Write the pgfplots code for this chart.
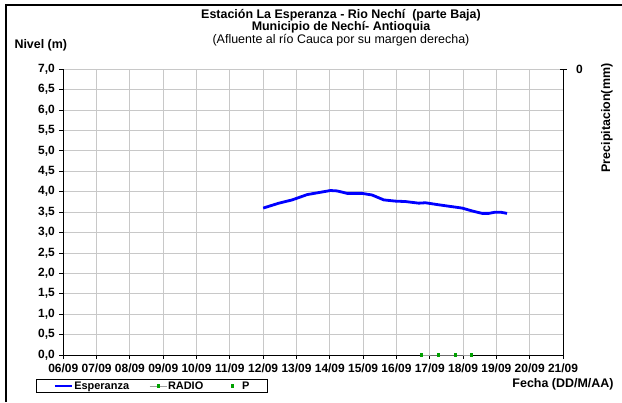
\documentclass[border=0pt]{standalone}
\usepackage{pgfplots}
\pgfplotsset{compat=1.18}
\usepackage{fontspec}
\setmainfont{Liberation Sans}
\definecolor{esp}{RGB}{0,0,255}
\definecolor{gridgray}{RGB}{200,200,200}
\definecolor{radgreen}{RGB}{0,160,0}
\definecolor{radgray}{RGB}{160,160,160}
\begin{document}
\begin{tikzpicture}[x=1bp,y=1bp]
\useasboundingbox (0,0) rectangle (622,402);
\draw[line width=2bp] (6,0) -- (6,397) -- (622,397);
\node[font=\bfseries\fontsize{12.5}{14}\selectfont] at (341,387) {Estación La Esperanza - Rio Nechí\ \ (parte Baja)};
\node[font=\bfseries\fontsize{12.5}{14}\selectfont] at (341,375) {Municipio de Nechí- Antioquia};
\node[font=\fontsize{12.5}{14}\selectfont] at (341,362) {(Afluente al río Cauca por su margen derecha)};
\node[font=\bfseries\fontsize{12.5}{14}\selectfont, anchor=west] at (11,357) {Nivel (m)};
\node[font=\bfseries\fontsize{12.5}{14}\selectfont, anchor=east] at (617,18) {Fecha (DD/M/AA)};
\node[font=\bfseries\fontsize{12.5}{14}\selectfont, rotate=90] at (607,284) {Precipitacion(mm)};
\begin{axis}[
  at={(63.3bp,47bp)}, anchor=south west, scale only axis,
  width=499.7bp, height=285.7bp,
  xmin=6, xmax=21, ymin=0, ymax=7,
  xtick={6,7,8,9,10,11,12,13,14,15,16,17,18,19,20,21},
  xticklabels={06/09,07/09,08/09,09/09,10/09,11/09,12/09,13/09,14/09,15/09,16/09,17/09,18/09,19/09,20/09,21/09},
  ytick={0,0.5,1,1.5,2,2.5,3,3.5,4,4.5,5,5.5,6,6.5,7},
  grid=major, major grid style={color=gridgray, line width=0.9bp},
  axis x line*=bottom, axis y line*=left,
  axis line style={black, line width=0.9bp, -},
  tick align=outside, major tick length=4bp,
  tick style={black, line width=0.9bp},
  ticklabel style={font=\bfseries\fontsize{12}{13}\selectfont},
  xticklabel style={yshift=-1bp},
  yticklabel style={xshift=-1bp, /pgf/number format/.cd, use comma, fixed, fixed zerofill, precision=1},
  /pgf/number format/assume math mode=true,
  clip=false,
  legend columns=3,
  legend style={at={(-0.0546,-0.133)}, anchor=south west, draw=black, line width=0.9bp,
    font=\bfseries\fontsize{11}{12}\selectfont, inner xsep=17bp, inner ysep=0.5bp,
    nodes={inner xsep=1bp, inner ysep=1.5bp},
    /tikz/every even column/.append style={column sep=19bp}},
  legend cell align=left,
]
\addplot[esp, line width=2.8bp] coordinates {
(12.00,3.60)(12.47,3.72)(12.87,3.80)(13.32,3.93)(13.67,3.98)(14.02,4.03)(14.22,4.02)(14.52,3.96)(14.97,3.96)(15.27,3.92)(15.62,3.80)(15.97,3.77)(16.27,3.76)(16.67,3.72)(16.87,3.73)(17.27,3.68)(17.62,3.64)(17.97,3.60)(18.27,3.53)(18.57,3.47)(18.77,3.47)(18.97,3.50)(19.12,3.50)(19.32,3.47)
};
\addlegendentry{Esperanza}
\addplot[radgray, line width=0.9bp, mark=square*, mark size=1.1bp, mark options={radgreen, draw=radgreen, fill=radgreen}] coordinates {
(16.76,0)(17.26,0)(17.76,0)(18.26,0)
};
\addlegendentry{RADIO}
\addlegendimage{draw opacity=0, mark=square*, mark size=1.1bp, mark options={draw=radgreen, fill=radgreen, draw opacity=1}}
\addlegendentry{P}
\end{axis}
\begin{axis}[
  at={(63.3bp,47bp)}, anchor=south west, scale only axis,
  width=499.7bp, height=285.7bp,
  xmin=6, xmax=21, ymin=0, ymax=10, y dir=reverse,
  axis x line=none, axis y line*=right,
  axis line style={black, line width=0.9bp, -},
  ytick={0}, tick align=center, major tick length=7bp,
  tick style={black, line width=0.9bp},
  ticklabel style={font=\bfseries\fontsize{12}{13}\selectfont},
  yticklabel style={xshift=6bp},
  /pgf/number format/assume math mode=true,
]
\end{axis}
\end{tikzpicture}
\end{document}
